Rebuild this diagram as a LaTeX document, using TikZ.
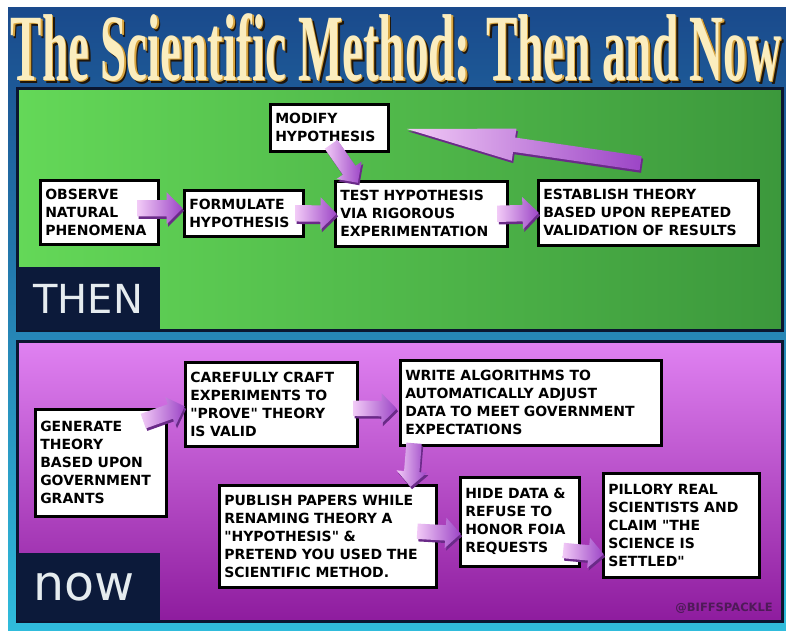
\documentclass[tikz,border=0pt]{standalone}
\usepackage{fontspec}
\usepackage{tikz}
\usetikzlibrary{calc,positioning,shapes.arrows,shadows}

\newfontfamily\comicfont{DejaVu Sans}
\newfontfamily\titlefont[FakeStretch=0.495]{Liberation Serif}

\definecolor{bgtop}{HTML}{1A4A8C}
\definecolor{bgbottom}{HTML}{30BCDC}
\definecolor{panelline}{HTML}{0B1630}
\definecolor{labelbg}{HTML}{0C1A3A}
\definecolor{labeltext}{HTML}{E6ECEF}
\definecolor{greenleft}{HTML}{64D858}
\definecolor{greenright}{HTML}{3C983C}
\definecolor{pinktop}{HTML}{E082F2}
\definecolor{pinkbottom}{HTML}{8E1C9E}
\definecolor{arrowtail}{HTML}{F2CBF7}
\definecolor{arrowhead}{HTML}{9C45C6}
\definecolor{arrowshade}{HTML}{6A2A88}
\definecolor{titlecream}{HTML}{FBEDBE}
\definecolor{titlegold}{HTML}{D6A33E}
\definecolor{titleshadow}{HTML}{20160A}
\definecolor{signcolor}{HTML}{4E1A58}

\newcommand{\blockarrow}[3][]{%
	\path let \p1=(#2), \p2=(#3), \n1={atan2(\y2-\y1,\x2-\x1)}, \n2={veclen(\x2-\x1,\y2-\y1)} in
		node[blockarr, minimum height=\n2, rotate=\n1, anchor=tip, #1] at (\p2) {};%
}

\begin{document}
\begin{tikzpicture}[x=1pt, y=-1pt,
	stepbox/.style={draw=black, line width=2.5pt, fill=white, anchor=north west, align=left, inner xsep=5pt, inner ysep=4pt, font=\comicfont\bfseries\fontsize{14}{18}\selectfont, drop shadow={shadow xshift=1.5pt, shadow yshift=-1.5pt, opacity=0.5}},
	labelbox/.style={anchor=north west, fill=labelbg, text=labeltext, align=left, inner xsep=16pt, minimum width=143pt},
	blockarr/.style={single arrow, inner xsep=0pt, inner ysep=8pt, single arrow head extend=8pt, single arrow head indent=0pt, left color=arrowtail, right color=arrowhead, drop shadow={shadow xshift=1.5pt, shadow yshift=-2.5pt, fill=arrowshade, opacity=1}},
	nowarr/.style={inner ysep=7.5pt, single arrow head extend=7.5pt},
	longarr/.style={inner ysep=7pt, single arrow head extend=9pt, single arrow tip angle=17},
	titletext/.style={anchor=base, font=\titlefont\bfseries\fontsize{95}{95}\selectfont, inner sep=0pt}]

\useasboundingbox (0,0) rectangle (786,630);
\fill[top color=bgtop, bottom color=bgbottom] (8,7) rectangle (786,630);

\draw[draw=panelline, line width=3pt, left color=greenleft, right color=greenright] (17,88) rectangle (782,330);
\draw[draw=panelline, line width=3pt, top color=pinktop, bottom color=pinkbottom] (17,341) rectangle (782,621);

\node[labelbox, minimum height=63pt, text width=111pt, font=\comicfont\fontsize{40}{40}\selectfont] (thenlabel) at (17,267) {THEN};
\node[labelbox, minimum height=68pt, text width=111pt, font=\comicfont\fontsize{49}{49}\selectfont] (nowlabel) at (17,553) {now};

% then
\node[stepbox, minimum height=64pt, text width=108pt] (obs) at (39,179) {OBSERVE\\NATURAL\\PHENOMENA};
\node[stepbox, minimum height=46pt, text width=109pt] (form) at (183,189) {FORMULATE\\HYPOTHESIS};
\node[stepbox, minimum height=47pt, text width=108pt] (modify) at (269,103) {MODIFY\\HYPOTHESIS};
\node[stepbox, minimum height=65pt, text width=162pt] (test) at (334,180) {TEST HYPOTHESIS\\VIA RIGOROUS\\EXPERIMENTATION};
\node[stepbox, minimum height=65pt, text width=210pt] (theory) at (537,179) {ESTABLISH THEORY\\BASED UPON REPEATED\\VALIDATION OF RESULTS};

% now
\node[stepbox, minimum height=107pt, text width=121pt] (grant) at (34,408) {GENERATE\\THEORY\\BASED UPON\\GOVERNMENT\\GRANTS};
\node[stepbox, minimum height=84pt, text width=162pt] (craft) at (184,361) {CAREFULLY CRAFT\\EXPERIMENTS TO\\"PROVE" THEORY\\IS VALID};
\node[stepbox, minimum height=85pt, text width=251pt] (algo) at (399,359) {WRITE ALGORITHMS TO\\AUTOMATICALLY ADJUST\\DATA TO MEET GOVERNMENT\\EXPECTATIONS};
\node[stepbox, minimum height=102pt, text width=207pt] (publish) at (218,484) {PUBLISH PAPERS WHILE\\RENAMING THEORY A\\"HYPOTHESIS" \&\\PRETEND YOU USED THE\\SCIENTIFIC METHOD.};
\node[stepbox, minimum height=89pt, text width=109pt] (hide) at (459,476) {HIDE DATA \&\\REFUSE TO\\HONOR FOIA\\REQUESTS};
\node[stepbox, minimum height=104pt, text width=146pt] (pillory) at (602,472) {PILLORY REAL\\SCIENTISTS AND\\CLAIM "THE\\SCIENCE IS\\SETTLED"};

\blockarrow{$(obs.east)+(-22,-4)$}{$(form.west)+(0,-5)$}
\blockarrow{$(form.east)+(-9,0)$}{$(test.west)+(3,0)$}
\blockarrow{$(test.east)+(-11,0)$}{$(theory.west)+(2,0)$}
\blockarrow[nowarr]{$(modify.south)+(2,-8)$}{$(test.north west)+(24,3)$}
\blockarrow[longarr]{$(theory.north)+(-9,-16)$}{$(modify.east)+(16,1)$}

\blockarrow[nowarr]{$(grant.north east)+(-24,13)$}{$(craft.west)+(1,2)$}
\blockarrow[nowarr]{$(craft.east)+(-5,4)$}{$(algo.west)+(-2,6)$}
\blockarrow[nowarr]{$(algo.south west)+(15,-3)$}{$(publish.north east)+(-27,3)$}
\blockarrow[nowarr]{$(publish.east)+(-20,-5)$}{$(hide.west)+(2,12)$}
\blockarrow[nowarr]{$(hide.south east)+(-17,-17)$}{$(pillory.west)+(2,29)$}

\node[anchor=base east, text=signcolor, font=\comicfont\bfseries\fontsize{11.5}{12}\selectfont, inner sep=0pt] (sign) at (773,611) {@BIFFSPACKLE};

\node[titletext, text=titleshadow] (titleshade) at (399,83) {The Scientific Method: Then and Now};
\node[titletext, text=titlegold] (titlegoldcopy) at (397.5,81.5) {The Scientific Method: Then and Now};
\node[titletext, text=titlecream] (title) at (396,80) {The Scientific Method: Then and Now};
\end{tikzpicture}
\end{document}
